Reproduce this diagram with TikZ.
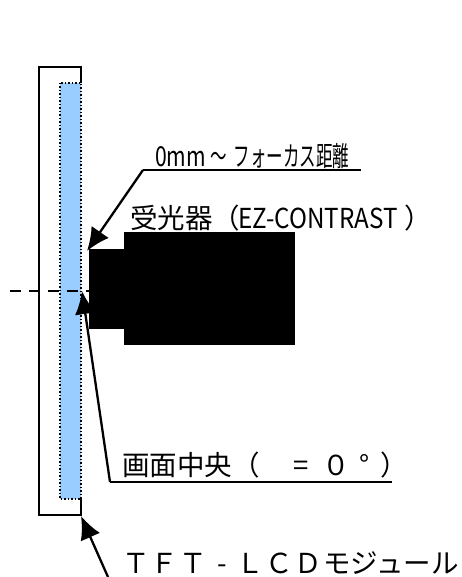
\documentclass[tikz,border=0pt]{standalone}
\usepackage{fontspec}
\setmainfont{Noto Sans CJK JP}
\usetikzlibrary{arrows.meta}

\definecolor{panelblue}{HTML}{99CCFF}

\tikzset{
  leader/.style={draw,line width=2.3pt},
  pointer/.style={draw,line width=2.3pt,-{Latex[length=23pt,width=21pt]}},
  label/.style={font=\fontsize{27.5}{27.5}\selectfont,inner sep=0pt,anchor=base west}
}

\begin{document}
\begin{tikzpicture}[x=1pt,y=-1pt]

      \useasboundingbox (0,0) rectangle (462,577);

      % module
      \draw[line width=2.3pt] (81,83) -- (81,67) -- (39,67) -- (39,515) -- (81,515) -- (81,499);
      \fill[panelblue] (60,83) rectangle (81,499);
      \draw[line width=1.5pt,dotted] (60,83) rectangle (81,499);

      % receiver
      \fill (89,249) rectangle (124,329);
      \fill (124,232) rectangle (295,345);
      \draw[line width=2.3pt,dash pattern=on 11pt off 8pt] (10,291) -- (89,291);

      \coordinate (focusend) at (361,170);
      \coordinate (focuskink) at (143,170);
      \coordinate (focustip) at (87,251);
      \coordinate (centerend) at (392,482);
      \coordinate (centerkink) at (110,482);
      \coordinate (centertip) at (82,291);
      \coordinate (moduletip) at (81,516);
      \coordinate (modulefoot) at (108,577);

      \node[label,xscale=0.6] (focus) at (155,167) {\scalebox{1.28}[1]{0mm}\hspace{8pt}～\hspace{11pt}フォーカス距離};
      \node[label] (receiver) at (130,228) {受光器（\hspace{-2pt}\scalebox{0.88}[1]{EZ-CONTRAST}\hspace{7pt}）};
      \node[label] (center) at (122,475) {画面中央（\hspace{34pt}=\hspace{14pt}０\hspace{9pt}°\hspace{11pt}）};
      \node[label] (module) at (122,573) {Ｔ\hspace{1.2pt}Ｆ\hspace{1.2pt}Ｔ\hspace{1.2pt}\makebox[27.5pt]{-}\hspace{1.2pt}Ｌ\hspace{1.2pt}Ｃ\hspace{1.2pt}Ｄ\hspace{1.2pt}モジュール};

      \path[leader] (focusend) -- (focuskink);
      \path[pointer] (focuskink) -- (focustip);
      \path[leader] (centerend) -- (centerkink);
      \path[pointer] (centerkink) -- (centertip);
      \path[pointer] (modulefoot) -- (moduletip);

    \end{tikzpicture}
\end{document}
